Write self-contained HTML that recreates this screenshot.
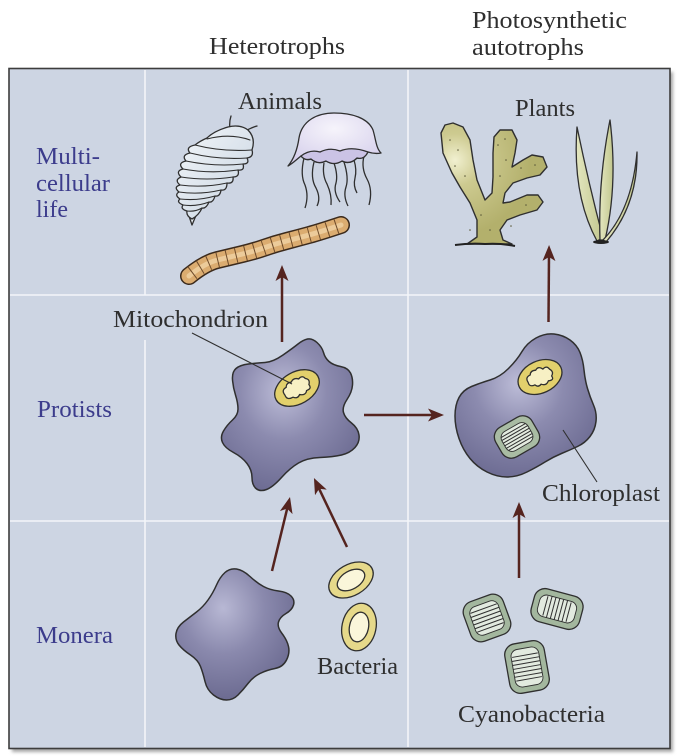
<!DOCTYPE html>
<html>
<head>
<meta charset="utf-8">
<style>
  html,body{margin:0;padding:0;background:#fff;}
  svg{display:block;}
  .hd{font-family:"Liberation Serif",serif;font-size:24px;fill:#2f2f2f;}
  .row{font-family:"Liberation Serif",serif;font-size:24px;fill:#3c3c8c;}
</style>
</head>
<body>
<svg width="678" height="756" viewBox="0 0 678 756" xmlns="http://www.w3.org/2000/svg">
  <defs>
    <radialGradient id="cell" cx="45%" cy="35%" r="70%">
      <stop offset="0" stop-color="#bdbdd8"/>
      <stop offset="0.45" stop-color="#8c8baf"/>
      <stop offset="1" stop-color="#6a6990"/>
    </radialGradient>
    <radialGradient id="mono" cx="40%" cy="30%" r="70%">
      <stop offset="0" stop-color="#b8b8d4"/>
      <stop offset="0.5" stop-color="#8a89ad"/>
      <stop offset="1" stop-color="#6c6b91"/>
    </radialGradient>
    <radialGradient id="weed" cx="455" cy="160" r="75" gradientUnits="userSpaceOnUse">
      <stop offset="0" stop-color="#f1f0d0"/>
      <stop offset="0.35" stop-color="#cdca90"/>
      <stop offset="1" stop-color="#b3b06c"/>
    </radialGradient>
    <linearGradient id="grass" x1="0" y1="0" x2="1" y2="0">
      <stop offset="0" stop-color="#e3e6bf"/>
      <stop offset="1" stop-color="#c2c78e"/>
    </linearGradient>
    <radialGradient id="jelly" cx="50%" cy="30%" r="70%">
      <stop offset="0" stop-color="#f6f4fb"/>
      <stop offset="1" stop-color="#d6d0ec"/>
    </radialGradient>
    <linearGradient id="iso" x1="0" y1="0" x2="1" y2="1">
      <stop offset="0" stop-color="#f4f7fa"/>
      <stop offset="1" stop-color="#c6d3e0"/>
    </linearGradient>
    <marker id="ah" viewBox="0 0 16 13" refX="8" refY="6.5" markerWidth="16" markerHeight="13" markerUnits="userSpaceOnUse" orient="auto">
      <path d="M0,0 L16,6.5 L0,13 L4,6.5 Z" fill="#55241f"/>
    </marker>
    <filter id="blur" x="-5%" y="-5%" width="110%" height="110%">
      <feGaussianBlur stdDeviation="1.5"/>
    </filter>
  </defs>

  <!-- headers -->
  <text class="hd" x="209" y="54" textLength="136" lengthAdjust="spacingAndGlyphs">Heterotrophs</text>
  <text class="hd" x="472" y="28" textLength="155" lengthAdjust="spacingAndGlyphs">Photosynthetic</text>
  <text class="hd" x="472" y="55" textLength="112" lengthAdjust="spacingAndGlyphs">autotrophs</text>

  <!-- box -->
  <rect x="12" y="72" width="661" height="680" fill="#a8a8a8" filter="url(#blur)"/>
  <rect x="9" y="68.5" width="661" height="680" fill="#cdd5e3" stroke="#3d3d3d" stroke-width="1.6"/>

  <!-- white grid lines -->
  <g stroke="#f3f5f9" stroke-width="1.6" fill="none">
    <line x1="145" y1="70" x2="145" y2="295"/>
    <line x1="145" y1="340" x2="145" y2="747"/>
    <line x1="408" y1="70" x2="408" y2="747"/>
    <line x1="10" y1="295" x2="669" y2="295"/>
    <line x1="10" y1="521" x2="669" y2="521"/>
  </g>

  <!-- row labels -->
  <text class="row" x="36" y="164" textLength="64" lengthAdjust="spacingAndGlyphs">Multi-</text>
  <text class="row" x="36" y="191" textLength="74" lengthAdjust="spacingAndGlyphs">cellular</text>
  <text class="row" x="36" y="217" textLength="32" lengthAdjust="spacingAndGlyphs">life</text>
  <text class="row" x="37" y="417" textLength="75" lengthAdjust="spacingAndGlyphs">Protists</text>
  <text class="row" x="36" y="643" textLength="77" lengthAdjust="spacingAndGlyphs">Monera</text>

  <!-- labels -->
  <text class="hd" x="238" y="109" textLength="84" lengthAdjust="spacingAndGlyphs">Animals</text>
  <text class="hd" x="515" y="116" textLength="60" lengthAdjust="spacingAndGlyphs">Plants</text>
  <text class="hd" x="113" y="327" textLength="155" lengthAdjust="spacingAndGlyphs">Mitochondrion</text>
  <text class="hd" x="542" y="501" textLength="118" lengthAdjust="spacingAndGlyphs">Chloroplast</text>
  <text class="hd" x="317" y="674" textLength="81" lengthAdjust="spacingAndGlyphs">Bacteria</text>
  <text class="hd" x="458" y="722" textLength="147" lengthAdjust="spacingAndGlyphs">Cyanobacteria</text>

  <!-- ISOPOD -->
  <g stroke="#2f2f2f" stroke-width="1.3" stroke-linejoin="round" stroke-linecap="round">
    <path d="M230,129 Q229,122 231,116" fill="none"/>
    <path d="M244,132 Q250,128 257,126" fill="none"/>
    <polygon points="188,213 192,225 197,213" fill="#e9eef3"/>
    <path d="M195,145 Q185,147 190,153 Q181,155 186,161 Q177,163 183,169 Q175,171 181,177 Q174,180 180,185 Q173,187 179,192 Q174,195 180,199 Q176,202 183,205 Q180,209 187,211 Q186,216 192,219 Q199,215 202,208 Q206,209 209,202 Q213,203 215,196 Q220,197 221,190 Q227,191 227,183 Q234,184 233,177 Q240,177 238,170 Q245,171 243,164 Q250,164 247,158 Q254,157 252,150 Q256,138 248,130 Q240,124 228,127 Q214,131 207,138 Q200,141 195,145 Z" fill="url(#iso)"/>
    <g fill="none" stroke-width="1.1">
      <path d="M207,139 Q230,133 250,140"/>
      <path d="M195,145 Q222,152 252,150"/>
      <path d="M190,153 Q218,160 247,158"/>
      <path d="M186,161 Q215,167 243,164"/>
      <path d="M183,169 Q210,174 238,170"/>
      <path d="M181,177 Q207,181 233,177"/>
      <path d="M180,185 Q204,188 227,183"/>
      <path d="M179,192 Q200,195 221,190"/>
      <path d="M180,199 Q198,201 215,196"/>
      <path d="M183,205 Q196,207 209,202"/>
      <path d="M187,211 Q195,212 202,208"/>
    </g>
  </g>

  <!-- JELLYFISH -->
  <g stroke="#2f2f2f" stroke-width="1.3" stroke-linejoin="round" fill="none">
    <path d="M304,158 Q300,175 305,185 Q309,196 305,208"/>
    <path d="M314,162 Q310,178 316,188 Q321,198 317,206"/>
    <path d="M324,163 Q322,175 327,184 Q332,195 331,205"/>
    <path d="M334,163 Q338,175 336,183 Q333,192 340,202"/>
    <path d="M344,162 Q349,178 346,187 Q343,196 348,206"/>
    <path d="M354,160 Q357,170 355,178 Q353,186 357,193"/>
    <path d="M364,156 Q361,168 367,179 Q373,190 369,205"/>
    <path d="M288,166 C293,160 297,152 299,138 C302,120 318,113 334,113 C352,113 368,118 373,130 C376,140 376,148 381,153 C376,154 371,153 368,152 Q364,160 357,158 Q350,165 342,161 Q334,166 326,161 Q318,165 311,159 Q305,161 301,156 C296,160 292,164 288,166 Z" fill="url(#jelly)"/>
    <path d="M301,156 Q310,149 320,152 Q330,147 340,151 Q352,146 368,152 Q364,160 357,158 Q350,165 342,161 Q334,166 326,161 Q318,165 311,159 Q305,161 301,156 Z" fill="#cbc3e5"/>
  </g>

  <!-- WORM -->
  <g fill="none" stroke-linecap="round" stroke-linejoin="round">
    <path d="M189,276 Q205,263 217.5,260 Q230,257 242.5,254 Q255,251 265,247.5 Q275,244 286.5,241 Q298,238 309,235 Q320,232 341,225" stroke="#3b2a1c" stroke-width="18"/>
    <path d="M189,276 Q205,263 217.5,260 Q230,257 242.5,254 Q255,251 265,247.5 Q275,244 286.5,241 Q298,238 309,235 Q320,232 341,225" stroke="#dbac70" stroke-width="15"/>
    <path d="M189,276 Q205,263 217.5,260 Q230,257 242.5,254 Q255,251 265,247.5 Q275,244 286.5,241 Q298,238 309,235 Q320,232 341,225" stroke="#f4d9ac" stroke-width="5" opacity="0.7"/>
    <path d="M192,273 Q205,263 217.5,260 Q230,257 242.5,254 Q255,251 265,247.5 Q275,244 286.5,241 Q298,238 309,235 Q320,232 338,226" stroke="#6e4b2a" stroke-width="15" stroke-linecap="butt" stroke-dasharray="1 8.5"/>
  </g>

  <!-- SEAWEED -->
  <g stroke="#2f2f2f" stroke-width="1.4" stroke-linejoin="round">
    <path d="M467,244 L477,237 L477,220 L470,203 L460,187 L452,173 L443,153 L441,133 L445,125 L453,123 L463,127 L470,140 L473,160 L477,180 L485,200 L492,193 L493,177 L493,153 L494,137 L500,130 L512,130 L517,140 L515,153 L512,167 L523,160 L532,155 L543,157 L547,167 L540,175 L527,178 L513,183 L505,193 L503,203 L510,202 L527,195 L538,195 L543,202 L537,210 L520,215 L507,220 L500,230 L503,240 L512,244 Z" fill="url(#weed)"/>
    <path d="M455,245 Q470,243 485,244 Q500,243 515,246" fill="none" stroke="#222" stroke-width="2"/>
  </g>
  <g fill="#5b5a3a">
    <circle cx="450" cy="140" r="0.8"/><circle cx="458" cy="150" r="0.8"/><circle cx="455" cy="166" r="0.8"/>
    <circle cx="465" cy="176" r="0.8"/><circle cx="498" cy="145" r="0.8"/><circle cx="506" cy="160" r="0.8"/>
    <circle cx="500" cy="176" r="0.8"/><circle cx="521" cy="168" r="0.8"/><circle cx="535" cy="165" r="0.8"/>
    <circle cx="526" cy="205" r="0.8"/><circle cx="511" cy="226" r="0.8"/><circle cx="490" cy="230" r="0.8"/>
    <circle cx="481" cy="215" r="0.8"/><circle cx="470" cy="230" r="0.8"/><circle cx="505" cy="139" r="0.8"/>
  </g>

  <!-- GRASS -->
  <g stroke="#2f2f2f" stroke-width="1.3" stroke-linejoin="round" fill="url(#grass)">
    <path d="M597,241 Q572,195 577,127 Q589,185 603,238 Z"/>
    <path d="M600,240 Q598,180 610,120 Q618,185 605,240 Z"/>
    <path d="M603,240 Q632,210 637,152 Q638,205 606,242 Z"/>
  </g>
  <ellipse cx="601" cy="242" rx="8" ry="2" fill="#222"/>

  <!-- PROTIST 1 (heterotroph) -->
  <path d="M307.5,339 Q312,338 317,342.5 Q322,347 323.5,352.5 Q325,358 329,361.5 Q333,365 340.5,366.5 Q348,368 350.5,373 Q353,378 352.5,385 Q352,392 347,399.5 Q342,407 343.5,412.5 Q345,418 351.5,423 Q358,428 359,435 Q360,442 355,447.5 Q350,453 341.5,455 Q333,457 320,457.5 Q307,458 298.5,463 Q290,468 281.5,477.5 Q273,487 266.5,489.5 Q260,492 256,488.5 Q252,485 252,477.5 Q252,470 247,463.5 Q242,457 233.5,452.5 Q225,448 222.5,442.5 Q220,437 223.5,431 Q227,425 232.5,420 Q238,415 238,409 Q238,403 235.5,395 Q233,387 232.5,379.5 Q232,372 236,368.5 Q240,365 248.5,364 Q257,363 265,362.5 Q273,362 283,355 Q293,348 298,344 Q303,340 307.5,339 Z" fill="url(#cell)" stroke="#2f2f2f" stroke-width="1.5"/>
  <g transform="translate(297,388) rotate(-30)" stroke="#2f2f2f" stroke-width="1.3">
    <ellipse cx="0" cy="0" rx="24" ry="16" fill="#e2d06c"/>
    <path d="M-14,0 Q-15,-6 -9,-6 Q-7,-10 -2,-8 Q2,-11 6,-7 Q11,-9 12,-4 Q16,-1 12,3 Q13,8 7,7 Q4,11 -1,7 Q-5,10 -8,6 Q-15,6 -14,0 Z" fill="#f7f0c4"/>
  </g>
  <line x1="192" y1="333" x2="292" y2="384" stroke="#2f2f2f" stroke-width="1.1"/>

  <!-- PROTIST 2 (autotroph) -->
  <path d="M536,338 Q545,333 554,334 Q563,335 570,340 Q577,345 580,352.5 Q583,360 584,370 Q585,380 587.5,388.5 Q590,397 593.5,405 Q597,413 596,421.5 Q595,430 590,436.5 Q585,443 577.5,446.5 Q570,450 561.5,453.5 Q553,457 545,462 Q537,467 527,472 Q517,477 507,477 Q497,477 487,472 Q477,467 470,458.5 Q463,450 459,438.5 Q455,427 455,416 Q455,405 459,397.5 Q463,390 471.5,386.5 Q480,383 490,380 Q500,377 508.5,368.5 Q517,360 522,351.5 Q527,343 536,338 Z" fill="url(#cell)" stroke="#2f2f2f" stroke-width="1.5"/>
  <g transform="translate(540,377) rotate(-25)" stroke="#2f2f2f" stroke-width="1.3">
    <ellipse cx="0" cy="0" rx="23" ry="16" fill="#e2d06c"/>
    <path d="M-13,0 Q-14,-6 -8,-6 Q-6,-10 -1,-8 Q3,-11 6,-6 Q11,-8 12,-3 Q15,1 11,4 Q12,9 6,7 Q2,11 -2,7 Q-6,9 -8,5 Q-14,5 -13,0 Z" fill="#f7f0c4"/>
  </g>
  <g transform="translate(517,437) rotate(-30)" stroke="#2f2f2f">
    <rect x="-21" y="-17" width="42" height="34" rx="11" fill="#a9bca3" stroke-width="1.3"/>
    <rect x="-15" y="-11" width="30" height="22" rx="7" fill="#e4ece0" stroke-width="0.9"/>
    <g stroke-width="1">
      <line x1="-14" y1="-7.5" x2="14" y2="-7.5"/><line x1="-15" y1="-4.5" x2="15" y2="-4.5"/>
      <line x1="-15" y1="-1.5" x2="15" y2="-1.5"/><line x1="-15" y1="1.5" x2="15" y2="1.5"/>
      <line x1="-15" y1="4.5" x2="15" y2="4.5"/><line x1="-14" y1="7.5" x2="14" y2="7.5"/>
    </g>
  </g>
  <line x1="563" y1="430" x2="597" y2="482" stroke="#2f2f2f" stroke-width="1.1"/>

  <!-- MONERA -->
  <path d="M225,572.5 Q230,568 236.5,569 Q243,570 250,576.5 Q257,583 263.5,586.5 Q270,590 278.5,591 Q287,592 291,596 Q295,600 293.5,605 Q292,610 286,613.5 Q280,617 278.5,622 Q277,627 282,633.5 Q287,640 288.5,646.5 Q290,653 286.5,660 Q283,667 275,668.5 Q267,670 260,673.5 Q253,677 248,683.5 Q243,690 238,695 Q233,700 226.5,700 Q220,700 213.5,695 Q207,690 205,681.5 Q203,673 200.5,666.5 Q198,660 190.5,655 Q183,650 179,645 Q175,640 176,633.5 Q177,627 183.5,622 Q190,617 196.5,612 Q203,607 208,600 Q213,593 216.5,585 Q220,577 225,572.5 Z" fill="url(#mono)" stroke="#2f2f2f" stroke-width="1.5"/>

  <!-- BACTERIA -->
  <g stroke="#2f2f2f" stroke-width="1.3">
    <g transform="translate(351,580) rotate(-30)">
      <ellipse rx="24" ry="15.5" fill="#e6d98a"/>
      <ellipse rx="15" ry="9" fill="#faf6da"/>
    </g>
    <g transform="translate(359,627) rotate(12)">
      <ellipse rx="17" ry="24" fill="#e6d98a"/>
      <ellipse rx="9.5" ry="15" fill="#faf6da"/>
    </g>
  </g>

  <!-- CYANOBACTERIA -->
  <g stroke="#2f2f2f">
    <g transform="translate(487,618) rotate(-20)">
      <rect x="-21" y="-21" width="42" height="42" rx="11" fill="#a3b79e" stroke-width="1.3"/>
      <rect x="-15" y="-15" width="30" height="30" rx="7" fill="#e2eadf" stroke-width="0.9"/>
      <g stroke-width="1">
        <line x1="-14" y1="-10" x2="14" y2="-10"/><line x1="-15" y1="-6" x2="15" y2="-6"/>
        <line x1="-15" y1="-2" x2="15" y2="-2"/><line x1="-15" y1="2" x2="15" y2="2"/>
        <line x1="-15" y1="6" x2="15" y2="6"/><line x1="-14" y1="10" x2="14" y2="10"/>
      </g>
    </g>
    <g transform="translate(557,609) rotate(15)">
      <rect x="-25" y="-17" width="50" height="34" rx="11" fill="#a3b79e" stroke-width="1.3"/>
      <rect x="-19" y="-11" width="38" height="22" rx="7" fill="#e2eadf" stroke-width="0.9"/>
      <g stroke-width="1">
        <line x1="-12" y1="-10" x2="-12" y2="10"/><line x1="-8" y1="-11" x2="-8" y2="11"/>
        <line x1="-4" y1="-11" x2="-4" y2="11"/><line x1="0" y1="-11" x2="0" y2="11"/>
        <line x1="4" y1="-11" x2="4" y2="11"/><line x1="8" y1="-11" x2="8" y2="11"/>
        <line x1="12" y1="-10" x2="12" y2="10"/>
      </g>
    </g>
    <g transform="translate(527,667) rotate(-10)">
      <rect x="-20" y="-25" width="40" height="50" rx="11" fill="#a3b79e" stroke-width="1.3"/>
      <rect x="-14" y="-19" width="28" height="38" rx="7" fill="#e2eadf" stroke-width="0.9"/>
      <g stroke-width="1">
        <line x1="-13" y1="-12" x2="13" y2="-12"/><line x1="-14" y1="-8" x2="14" y2="-8"/>
        <line x1="-14" y1="-4" x2="14" y2="-4"/><line x1="-14" y1="0" x2="14" y2="0"/>
        <line x1="-14" y1="4" x2="14" y2="4"/><line x1="-14" y1="8" x2="14" y2="8"/>
        <line x1="-13" y1="12" x2="13" y2="12"/>
      </g>
    </g>
  </g>

  <!-- ARROWS -->
  <g stroke="#55241f" stroke-width="2.5" fill="none" marker-end="url(#ah)">
    <line x1="282" y1="342" x2="282" y2="273"/>
    <line x1="548.5" y1="322" x2="549" y2="253"/>
    <line x1="364" y1="415" x2="436" y2="415"/>
    <line x1="272" y1="571" x2="288.1" y2="504.8"/>
    <line x1="347" y1="547" x2="317.4" y2="485.2"/>
    <line x1="519" y1="578" x2="519" y2="510"/>
  </g>
</svg>
</body>
</html>
